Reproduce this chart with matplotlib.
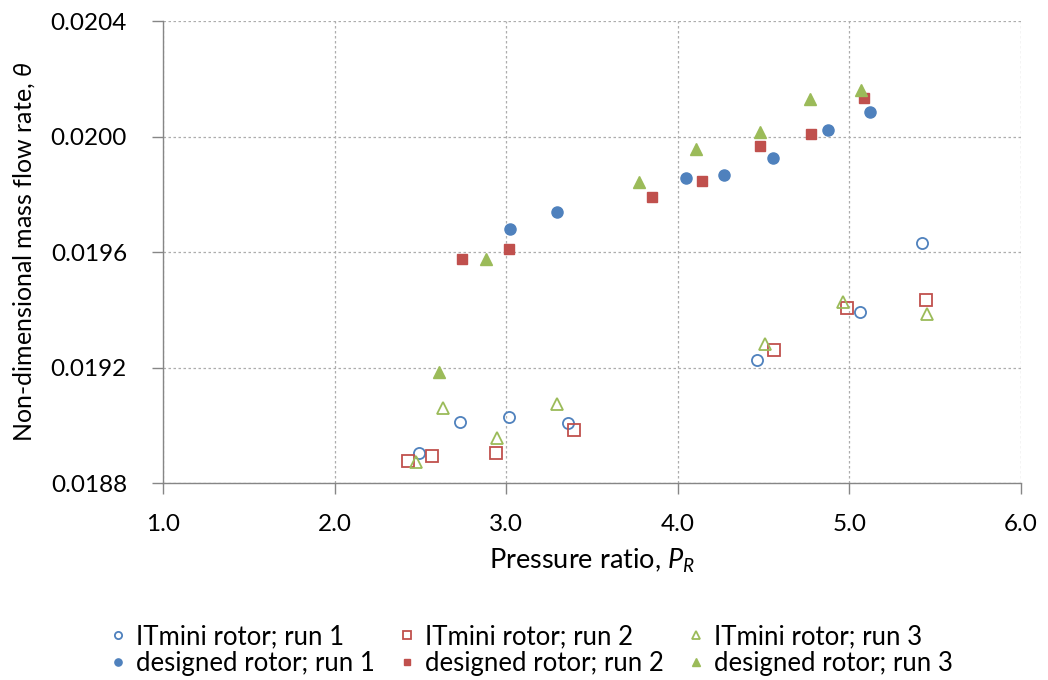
import matplotlib
matplotlib.use("Agg")
import matplotlib.pyplot as plt

plt.rcParams['font.family'] = ['Lato', 'DejaVu Sans']
plt.rcParams['mathtext.fontset'] = 'custom'
plt.rcParams['mathtext.rm'] = 'Lato'
plt.rcParams['mathtext.it'] = 'Lato:italic'

# ---- data ----
it1_x = [2.492, 2.731, 3.016, 3.360, 4.462, 5.062, 5.423]
it1_y = [0.018904, 0.019011, 0.019029, 0.019008, 0.019226, 0.019392, 0.019631]
it2_x = [2.428, 2.568, 2.941, 3.395, 4.561, 4.986, 5.446]
it2_y = [0.018876, 0.018894, 0.018904, 0.018984, 0.019261, 0.019406, 0.019434]
it3_x = [2.474, 2.632, 2.946, 3.296, 4.508, 4.963, 5.452]
it3_y = [0.018873, 0.019060, 0.018956, 0.019074, 0.019281, 0.019427, 0.019385]
d1_x = [3.022, 3.296, 4.048, 4.269, 4.555, 4.875, 5.120]
d1_y = [0.019680, 0.019738, 0.019856, 0.019867, 0.019926, 0.020023, 0.020085]
d2_x = [2.742, 3.016, 3.850, 4.141, 4.479, 4.776, 5.085]
d2_y = [0.019576, 0.019610, 0.019790, 0.019846, 0.019967, 0.020009, 0.020133]
d3_x = [2.608, 2.882, 3.774, 4.106, 4.479, 4.770, 5.068]
d3_y = [0.019184, 0.019576, 0.019842, 0.019957, 0.020016, 0.020130, 0.020161]

x_ticks = [1.0, 2.0, 3.0, 4.0, 5.0, 6.0]
y_ticks = [0.0188, 0.0192, 0.0196, 0.0200, 0.0204]
x_tick_labels = ["1.0", "2.0", "3.0", "4.0", "5.0", "6.0"]
y_tick_labels = ["0.0188", "0.0192", "0.0196", "0.0200", "0.0204"]

labels = ["ITmini rotor; run 1", "ITmini rotor; run 2", "ITmini rotor; run 3",
          "designed rotor; run 1", "designed rotor; run 2", "designed rotor; run 3"]

BLUE = "#4F81BD"
RED = "#C0504D"
GREEN = "#9BBB59"

fig = plt.figure(figsize=(10.48, 6.8), dpi=100)
ax = fig.add_axes([163/1048, 1-483/680, (1021-163)/1048, (483-21)/680])

ms = 8.0
ax.plot(it1_x, it1_y, 'o', ms=ms, mfc='none', mec=BLUE, mew=1.3, label=labels[0], zorder=3)
ax.plot(it2_x, it2_y, 's', ms=ms, mfc='none', mec=RED, mew=1.3, label=labels[1], zorder=3)
ax.plot(it3_x, it3_y, '^', ms=ms+1, mfc='none', mec=GREEN, mew=1.3, label=labels[2], zorder=3)
ax.plot(d1_x, d1_y, 'o', ms=ms, mfc=BLUE, mec=BLUE, label=labels[3], zorder=3)
ax.plot(d2_x, d2_y, 's', ms=ms-0.5, mfc=RED, mec=RED, label=labels[4], zorder=3)
ax.plot(d3_x, d3_y, '^', ms=ms+0.5, mfc=GREEN, mec=GREEN, label=labels[5], zorder=3)

ax.set_xlim(1.0, 6.0)
ax.set_ylim(0.0188, 0.0204)
ax.set_xticks(x_ticks)
ax.set_xticklabels(x_tick_labels)
ax.set_yticks(y_ticks)
ax.set_yticklabels(y_tick_labels)

for s in ['top', 'right']:
    ax.spines[s].set_visible(False)
for s in ['left', 'bottom']:
    ax.spines[s].set_color('#868686')
    ax.spines[s].set_linewidth(1.0)

ax.grid(True, color='#ADADAD', linestyle=(0, (2, 2)), linewidth=0.9)
ax.set_axisbelow(True)
ax.tick_params(axis='both', direction='out', length=8, width=1.0, color='#868686',
               labelsize=17.5, labelcolor='black')
ax.tick_params(axis='x', pad=14)
ax.tick_params(axis='y', pad=18)

ax.set_xlabel(r"Pressure ratio, $P_R$", fontsize=19.5, labelpad=9)
ax.set_ylabel(r"Non-dimensional mass flow rate, $\theta$", fontsize=18, labelpad=10)

# legend ordered column-wise for ncol=3
h, l = ax.get_legend_handles_labels()
order = [0, 3, 1, 4, 2, 5]
leg = fig.legend([h[i] for i in order], [l[i] for i in order], ncol=3,
                 loc='center', bbox_to_anchor=(0.508, 1-650/680), frameon=False,
                 fontsize=18.5, markerscale=0.65, handlelength=0.5, handletextpad=0.45,
                 columnspacing=1.0, labelspacing=0.05)

fig.savefig("out.png", dpi=100)
